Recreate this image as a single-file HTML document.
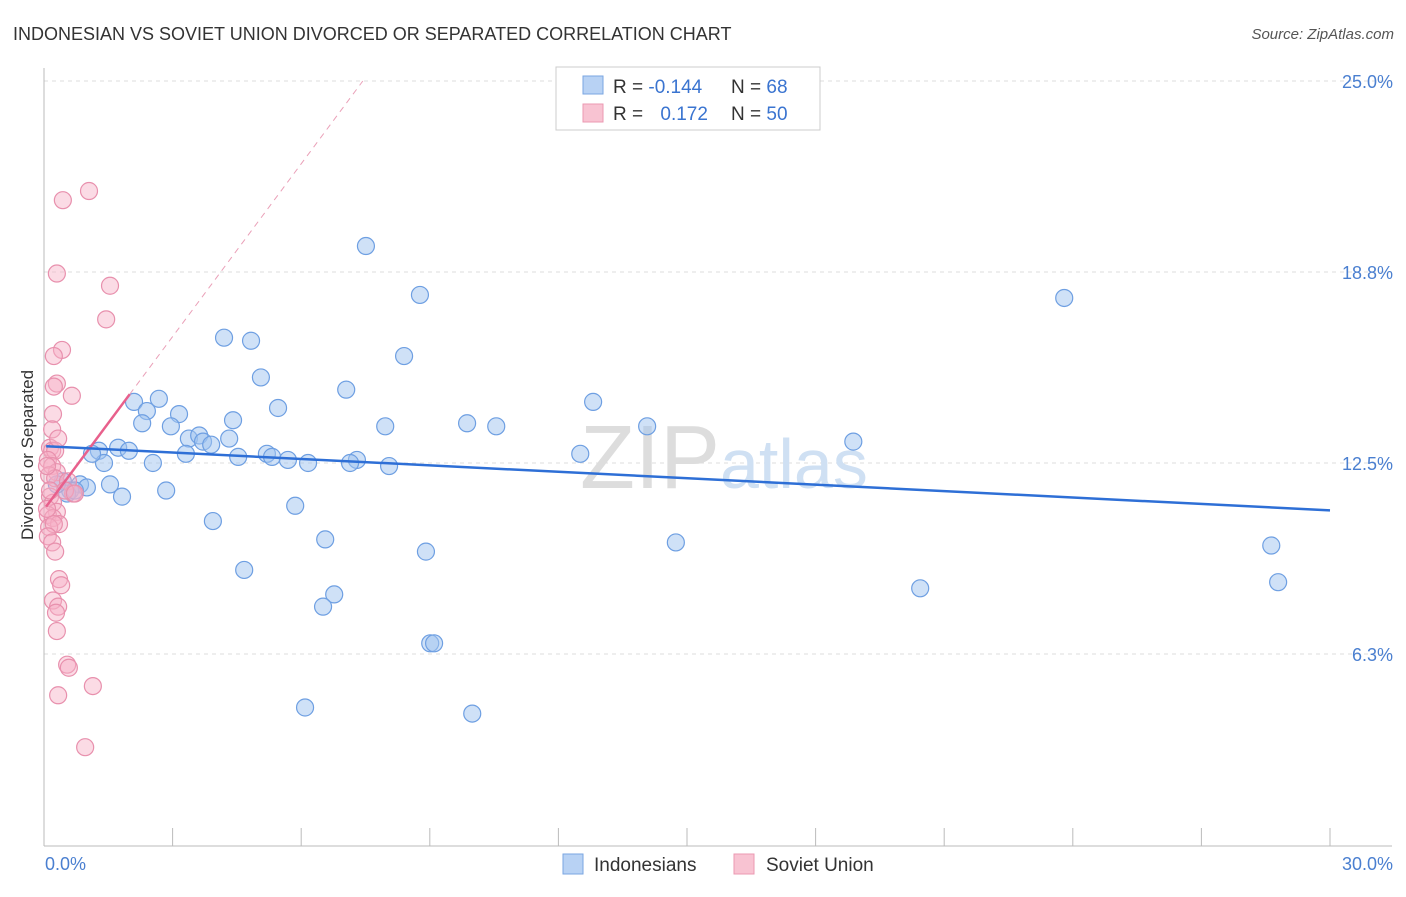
<!DOCTYPE html>
<html><head><meta charset="utf-8"><style>
body{margin:0;background:#fff;font-family:"Liberation Sans",sans-serif}
svg text{font-family:"Liberation Sans",sans-serif}
</style></head><body>
<svg width="1406" height="892" xmlns="http://www.w3.org/2000/svg">
<text x="13" y="40" font-size="18" fill="#333">INDONESIAN VS SOVIET UNION DIVORCED OR SEPARATED CORRELATION CHART</text>
<text x="1394" y="39" font-size="15" fill="#555" text-anchor="end" font-style="italic">Source: ZipAtlas.com</text>
<g id="grid"></g>
<text x="720" y="488" font-size="90" fill="#ddd" text-anchor="end" font-family="Liberation Serif">ZIP</text>
<text x="720" y="488" font-size="70" fill="#cfe0f3">atlas</text>
<line x1="44" y1="68" x2="44" y2="846" stroke="#bbb"/>
<line x1="44" y1="846" x2="1392" y2="846" stroke="#bbb"/>
<g id="xticks"></g>
<text x="45" y="870" font-size="18" fill="#4a7fd0">0.0%</text>
<text x="1393" y="870" font-size="18" fill="#4a7fd0" text-anchor="end">30.0%</text>
<text transform="translate(33,455) rotate(-90)" font-size="17" fill="#333" text-anchor="middle">Divorced or Separated</text>
<g id="points"></g>
<g id="lines"></g>
<g>
<rect x="556" y="67" width="264" height="63" fill="#fff" stroke="#ccc"/>
<rect x="583" y="76" width="20" height="18" fill="#b8d2f4" stroke="#7aa6e2"/>
<rect x="583" y="104" width="20" height="18" fill="#f8c3d2" stroke="#eb98b2"/>
<text x="613" y="93" font-size="19" fill="#333">R = <tspan fill="#3a74d0">-0.144</tspan></text>
<text x="731" y="93" font-size="19" fill="#333">N = <tspan fill="#3a74d0">68</tspan></text>
<text x="613" y="120" font-size="19" fill="#333">R = <tspan fill="#3a74d0" dx="12">0.172</tspan></text>
<text x="731" y="120" font-size="19" fill="#333">N = <tspan fill="#3a74d0">50</tspan></text>
</g>
<g>
<rect x="563" y="854" width="20" height="20" fill="#b8d2f4" stroke="#7aa6e2"/>
<text x="594" y="871" font-size="19" fill="#333">Indonesians</text>
<rect x="734" y="854" width="20" height="20" fill="#f8c3d2" stroke="#eb98b2"/>
<text x="766" y="871" font-size="19" fill="#333">Soviet Union</text>
</g>
</svg>
<script>
const yTicks=[25.0,18.75,12.5,6.25];
const yTickLabels=["25.0%","18.8%","12.5%","6.3%"];
const xTicks=[0,3,6,9,12,15,18,21,24,27,30];
const blueX=[7.51,8.77,23.80,4.20,4.83,8.40,5.06,7.05,12.81,2.10,2.68,5.46,2.40,3.15,2.29,2.96,4.41,7.96,10.55,9.87,14.07,3.38,3.62,4.32,3.71,3.90,18.88,1.28,1.73,1.98,12.51,2.54,1.40,7.30,6.16,3.31,4.53,5.20,5.32,5.69,1.12,7.14,8.05,0.44,0.84,1.54,1.00,0.61,0.54,2.85,1.82,5.86,3.94,6.56,14.74,28.63,8.91,4.67,28.79,20.44,6.77,6.51,9.01,9.10,6.09,9.99,0.30,0.72];
const blueY=[19.6,18.0,17.9,16.6,16.5,16.0,15.3,14.9,14.5,14.5,14.6,14.3,14.2,14.1,13.8,13.7,13.9,13.7,13.7,13.8,13.7,13.3,13.4,13.3,13.2,13.1,13.2,12.9,13.0,12.9,12.8,12.5,12.5,12.6,12.5,12.8,12.7,12.8,12.7,12.6,12.8,12.5,12.4,11.9,11.8,11.8,11.7,11.6,11.5,11.6,11.4,11.1,10.6,10.0,9.9,9.8,9.6,9.0,8.6,8.4,8.2,7.8,6.6,6.6,4.5,4.3,11.8,11.6];
const pinkX=[0.44,1.05,0.30,1.54,1.45,0.42,0.23,0.30,0.23,0.65,0.21,0.14,0.19,0.26,0.09,0.19,0.30,0.12,0.26,0.56,0.68,0.49,0.14,0.21,0.30,0.09,0.21,0.35,0.12,0.23,0.09,0.19,0.26,0.35,0.40,0.21,0.33,0.28,0.30,0.54,0.58,1.14,0.33,0.96,0.07,0.07,0.14,0.19,0.33,0.72];
const pinkY=[21.1,21.4,18.7,18.3,17.2,16.2,16.0,15.1,15.0,14.7,14.1,13.0,12.9,12.9,12.6,12.4,12.2,12.1,12.0,11.9,11.5,11.6,11.4,11.2,10.9,10.8,10.7,10.5,10.4,10.5,10.1,9.9,9.6,8.7,8.5,8.0,7.8,7.6,7.0,5.9,5.8,5.2,4.9,3.2,12.4,11.0,11.6,13.6,13.3,11.5];
const blueTrend=[13.05,10.95];
const pinkTrend=[10.98,14.75];
const pinkTrendEnd=2.0;
const X0=44,X1=1330,Y0=845,PXPER=30.56;
const xs=v=>X0+v/30*(X1-X0);
const ys=v=>Y0-v*PXPER;
const NS="http://www.w3.org/2000/svg";
function mk(tag,attrs,parent){const e=document.createElementNS(NS,tag);for(const k in attrs)e.setAttribute(k,attrs[k]);parent.appendChild(e);return e;}
const grid=document.getElementById('grid');
yTicks.forEach((t,i)=>{
 const l=mk('line',{x1:44,x2:1392,y1:ys(t),y2:ys(t),stroke:'#ddd','stroke-dasharray':'4,4'},grid);
 
 
 const tx=mk('text',{x:1393,y:ys(t)+7,'font-size':18,fill:'#4a7fd0','text-anchor':'end'},grid);
 tx.textContent=yTickLabels[i];
 
 
});
const xt=document.getElementById('xticks');
xTicks.forEach(t=>{
 const l=mk('line',{x1:xs(t),x2:xs(t),y1:828,y2:846,stroke:'#bbb'},xt);
 
 
});
const pts=document.getElementById('points');
blueX.forEach((v,i)=>{
 const c=mk('circle',{cx:xs(v),cy:ys(blueY[i]),r:8.5,fill:'rgba(160,196,240,0.5)',stroke:'#6e9fe2','stroke-width':1.2},pts);
 
 
});
pinkX.forEach((v,i)=>{
 const c=mk('circle',{cx:xs(v),cy:ys(pinkY[i]),r:8.5,fill:'rgba(246,176,198,0.45)',stroke:'#e890ad','stroke-width':1.2},pts);
 
 
});
const ln=document.getElementById('lines');
const slope=(pinkTrend[1]-pinkTrend[0])/pinkTrendEnd;
const dashEndX=(25.0-pinkTrend[0])/slope;
const d=mk('line',{x1:xs(pinkTrendEnd),y1:ys(pinkTrend[1]),x2:xs(dashEndX),y2:ys(25.0),stroke:'#eaa0b8','stroke-width':1,'stroke-dasharray':'6,5'},ln);


const p=mk('line',{x1:xs(0.05),y1:ys(pinkTrend[0]+slope*0.05),x2:xs(pinkTrendEnd),y2:ys(pinkTrend[1]),stroke:'#e8608c','stroke-width':2.5},ln);


const b=mk('line',{x1:xs(0.05),y1:ys(blueTrend[0]),x2:xs(30),y2:ys(blueTrend[1]),stroke:'#2e6fd6','stroke-width':2.5},ln);


</script>
</body></html>
